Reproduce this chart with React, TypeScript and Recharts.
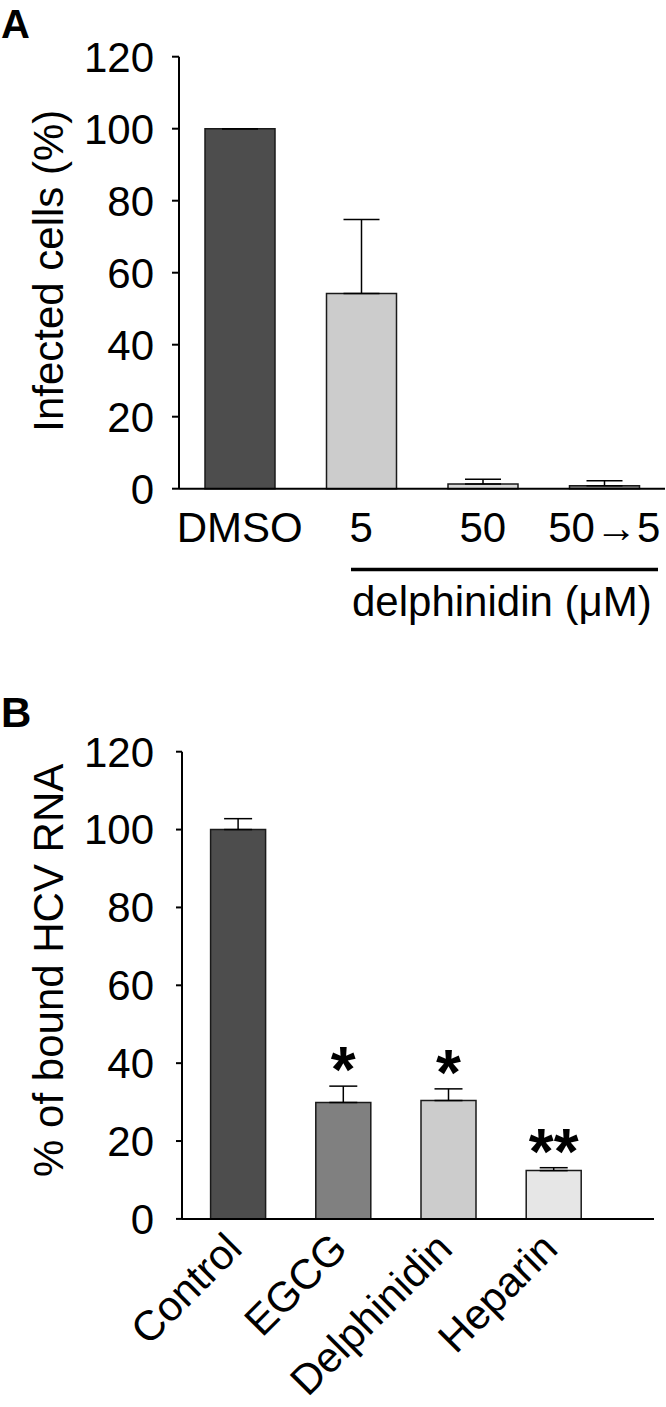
import React from "react"
import { BarChart, Bar, XAxis, YAxis, Cell, ErrorBar, LabelList, Label } from "recharts"

// panel A: infection
const groupsA = ["DMSO", "5", "50", "50\u21925"]
const infectedA = [100, 54.2, 1.3, 0.8]
const infectedErrA = [0, 20.6, 1.3, 1.4]

// panel B: binding
const groupsB = ["Control", "EGCG", "Delphinidin", "Heparin"]
const boundB = [100, 29.9, 30.4, 12.4]
const boundErrB = [2.8, 4.2, 3.0, 0.75]
const sigB = ["", "*", "*", "**"]

const yTicks = [0, 20, 40, 60, 80, 100, 120]

const fillsA = ["#4d4d4d", "#cccccc", "#d9d9d9", "#8a8a8a"]
const fillsB = ["#4d4d4d", "#808080", "#cccccc", "#e6e6e6"]

const FONT = "'Liberation Sans', Arial, Helvetica, sans-serif"

const dataA = groupsA.map((g, i) => ({ group: g, value: infectedA[i], err: [0, infectedErrA[i]] }))
const dataB = groupsB.map((g, i) => ({ group: g, value: boundB[i], err: [0, boundErrB[i]], sig: sigB[i] }))

const axisStyle = { stroke: "#000", strokeWidth: 2 }

function yLabel(text: string, shift: number) {
  return (props: any) => {
    const vb = props.viewBox
    const cx = 63
    const cy = vb.y + vb.height / 2 + shift
    return (
      <text x={cx} y={cy} textAnchor="middle" fontSize={42} fontFamily={FONT} fill="#000"
        transform={`rotate(-90 ${cx} ${cy})`}>
        {text}
      </text>
    )
  }
}

function TickA(props: any) {
  const { x, y, payload } = props
  return (
    <text x={x} y={y + 53} textAnchor="middle" fontSize={42} fontFamily={FONT} fill="#000">
      {payload.value}
    </text>
  )
}

function TickB(props: any) {
  const { x, y, payload } = props
  const ax = x + 6
  const ay = y + 32
  return (
    <text x={ax} y={ay} textAnchor="end" fontSize={42} fontFamily={FONT} fill="#000"
      transform={`rotate(-45 ${ax} ${ay})`}>
      {payload.value}
    </text>
  )
}

function StarLabel(props: any) {
  const { x, y, width, height, value, index } = props
  if (!value) return null
  const perUnit = height / boundB[index]
  const errTop = y - boundErrB[index] * perUnit
  return (
    <text x={x + width / 2} y={errTop + 6} textAnchor="middle" fontSize={64} fontWeight="bold"
      fontFamily={FONT} fill="#000">
      {value}
    </text>
  )
}

function PanelA() {
  return (
    <BarChart width={666} height={660} data={dataA} margin={{ top: 56.7, right: 1, bottom: 0, left: 0 }}>
      <XAxis dataKey="group" height={171.3} axisLine={axisStyle} tickLine={false} tickSize={0}
        tickMargin={0} tick={<TickA />} interval={0} />
      <YAxis width={179} domain={[0, 120]} ticks={yTicks} interval={0} axisLine={axisStyle}
        tickLine={axisStyle} tickSize={7} tickMargin={18}
        tick={{ fontSize: 42, fill: "#000", fontFamily: FONT }}>
        <Label content={yLabel("Infected cells (%)", -2)} />
      </YAxis>
      <Bar dataKey="value" barSize={70} stroke="#1a1a1a" strokeWidth={1.5} isAnimationActive={false}>
        {dataA.map((d, i) => <Cell key={d.group} fill={fillsA[i]} />)}
        <ErrorBar dataKey="err" width={18} stroke="#000" strokeWidth={1.5} direction="y" isAnimationActive={false} />
      </Bar>
    </BarChart>
  )
}

function PanelB() {
  return (
    <BarChart width={666} height={717} data={dataB} margin={{ top: 61.7, right: 12, bottom: 0, left: 0 }}>
      <XAxis dataKey="group" height={188.1} axisLine={axisStyle} tickLine={false} tickSize={0}
        tickMargin={0} tick={<TickB />} interval={0} padding={{ left: 3.6, right: 47.6 }} />
      <YAxis width={182} domain={[0, 120]} ticks={yTicks} interval={0} axisLine={axisStyle}
        tickLine={axisStyle} tickSize={6} tickMargin={22}
        tick={{ fontSize: 42, fill: "#000", fontFamily: FONT }}>
        <Label content={yLabel("% of bound HCV RNA", -15)} />
      </YAxis>
      <Bar dataKey="value" barSize={55} stroke="#1a1a1a" strokeWidth={1.5} isAnimationActive={false}>
        {dataB.map((d, i) => <Cell key={d.group} fill={fillsB[i]} />)}
        <ErrorBar dataKey="err" width={14} stroke="#000" strokeWidth={1.5} direction="y" isAnimationActive={false} />
        <LabelList dataKey="sig" content={<StarLabel />} />
      </Bar>
    </BarChart>
  )
}

export default function App() {
  return (
    <div style={{ position: "absolute", left: 0, top: 0, width: 666, height: 1407, background: "#fff" }}>
      <div style={{ position: "absolute", left: 0, top: 0 }}>
        <PanelA />
      </div>
      <div style={{ position: "absolute", left: 0, top: 690 }}>
        <PanelB />
      </div>
      <svg width={666} height={1407} style={{ position: "absolute", left: 0, top: 0, pointerEvents: "none" }}>
        <text x={1} y={38} fontSize={40} fontWeight="bold" fontFamily={FONT} fill="#000">A</text>
        <text x={1} y={727} fontSize={42} fontWeight="bold" fontFamily={FONT} fill="#000">B</text>
        <line x1={351} x2={658} y1={569.5} y2={569.5} stroke="#000" strokeWidth={3.5} />
        <text x={352} y={616} fontSize={42} fontFamily={FONT} fill="#000">delphinidin (μM)</text>
      </svg>
    </div>
  )
}
